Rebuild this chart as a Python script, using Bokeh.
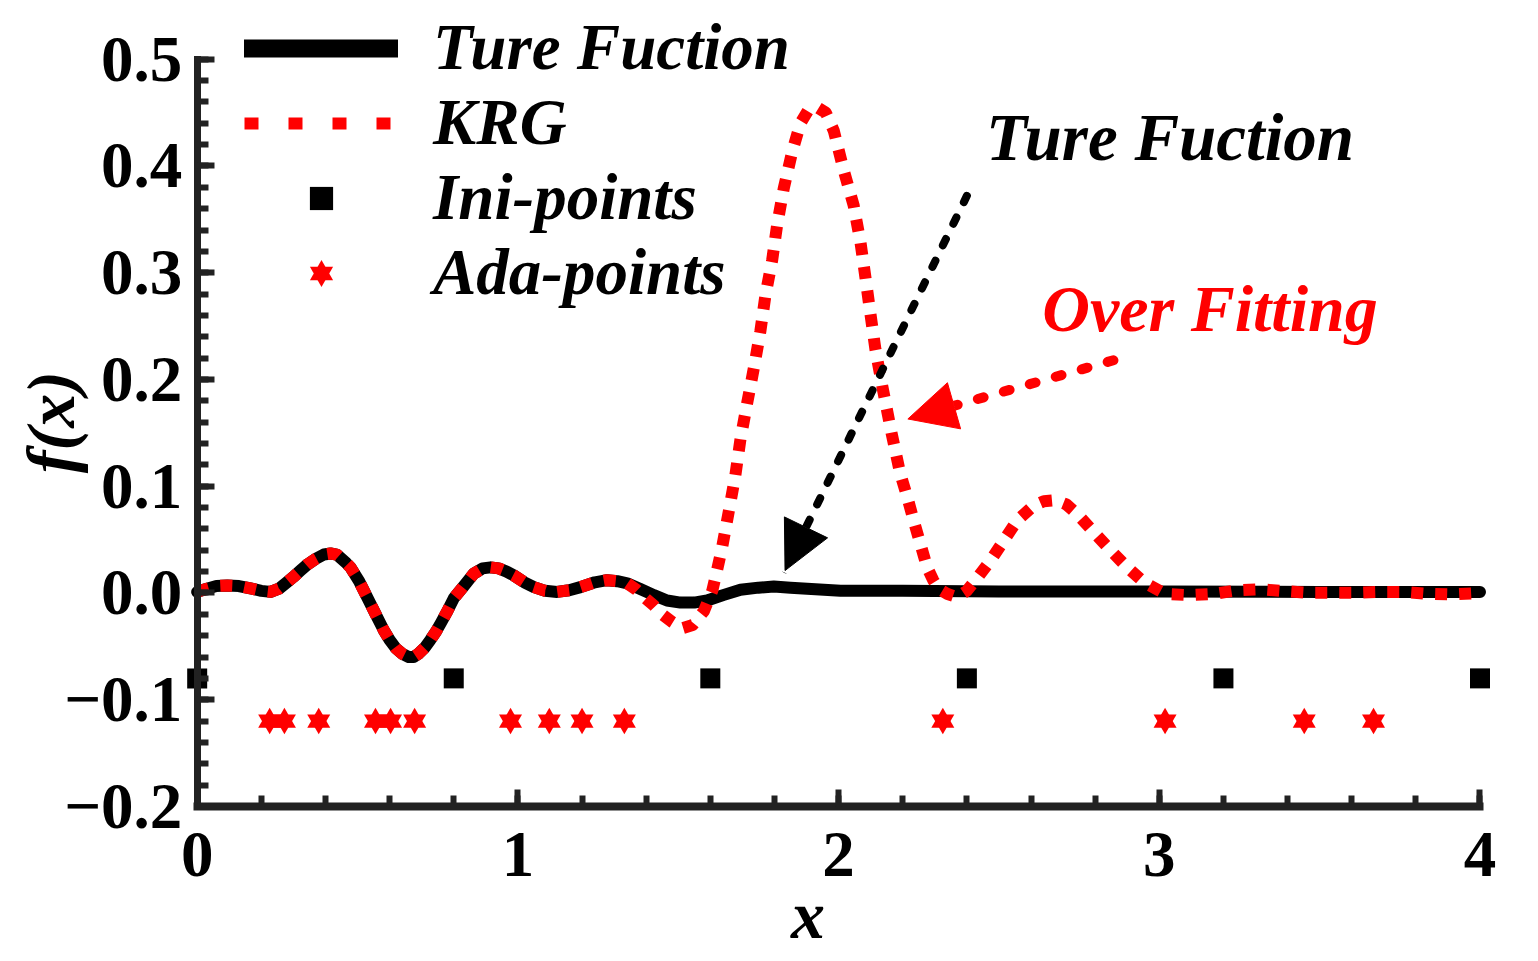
import math
from bokeh.plotting import figure
from bokeh.models import (FixedTicker, Legend, LegendItem, Label, Arrow,
                          NormalHead, Range1d)
from bokeh.embed import file_html
from bokeh.resources import INLINE

# ---------------- data ----------------
true_x = [0.00, 0.03, 0.06, 0.094, 0.13, 0.17, 0.20, 0.229, 0.255, 0.28,
          0.30, 0.322, 0.345, 0.37, 0.395, 0.416, 0.435, 0.45, 0.465, 0.478,
          0.505, 0.53, 0.555, 0.582, 0.60, 0.62, 0.64, 0.66, 0.675, 0.69,
          0.71, 0.727, 0.745, 0.76, 0.78, 0.80, 0.83, 0.862, 0.89, 0.915,
          0.94, 0.965, 0.987, 1.02, 1.05, 1.085, 1.122, 1.16, 1.195, 1.24,
          1.278, 1.31, 1.341, 1.38, 1.424, 1.465, 1.507, 1.55, 1.59, 1.64,
          1.694, 1.75, 1.798, 1.85, 1.902, 2.006, 2.2, 2.5, 3.0, 3.5, 4.0]
true_y = [0.001, 0.004, 0.0065, 0.007, 0.0065, 0.004, 0.002, 0.001, 0.004,
          0.010, 0.015, 0.021, 0.027, 0.032, 0.036, 0.037, 0.036, 0.032,
          0.028, 0.024, 0.011, -0.004, -0.019, -0.035, -0.044, -0.052,
          -0.057, -0.060, -0.060, -0.057, -0.051, -0.044, -0.036, -0.028,
          -0.017, -0.005, 0.006, 0.018, 0.023, 0.024, 0.023, 0.020, 0.0165,
          0.010, 0.0055, 0.002, 0.001, 0.0025, 0.0055, 0.010, 0.012, 0.011,
          0.009, 0.004, -0.002, -0.007, -0.009, -0.009, -0.007, -0.002,
          0.003, 0.005, 0.006, 0.005, 0.004, 0.002, 0.002, 0.0015, 0.0015,
          0.001, 0.001]

krg_x = [0.00, 0.03, 0.06, 0.094, 0.13, 0.17, 0.20, 0.229, 0.255, 0.28,
         0.30, 0.322, 0.345, 0.37, 0.395, 0.416, 0.435, 0.45, 0.465, 0.478,
         0.505, 0.53, 0.555, 0.582, 0.60, 0.62, 0.64, 0.66, 0.675, 0.69,
         0.71, 0.727, 0.745, 0.76, 0.78, 0.80, 0.83, 0.862, 0.89, 0.915,
         0.94, 0.965, 0.987, 1.02, 1.05, 1.085, 1.122, 1.16, 1.195, 1.24,
         1.278, 1.31, 1.341,
         1.37, 1.398, 1.425, 1.45, 1.48, 1.512, 1.545, 1.58, 1.606, 1.62,
         1.637, 1.658, 1.678, 1.694, 1.715, 1.736, 1.756, 1.772, 1.793,
         1.809, 1.829, 1.855, 1.881, 1.905, 1.933, 1.96, 1.985, 2.016,
         2.047, 2.068, 2.084, 2.099, 2.115, 2.136, 2.165, 2.192, 2.214,
         2.234, 2.255, 2.276, 2.295, 2.312, 2.34, 2.37, 2.40, 2.427, 2.474,
         2.515, 2.557, 2.609, 2.64, 2.676, 2.71, 2.744, 2.796, 2.848, 2.9,
         2.952, 3.02, 3.092, 3.165, 3.243, 3.316, 3.388, 3.461, 3.539,
         3.612, 3.69, 3.763, 3.836, 3.913, 4.0]
krg_y = [0.001, 0.004, 0.0065, 0.007, 0.0065, 0.004, 0.002, 0.001, 0.004,
         0.010, 0.015, 0.021, 0.027, 0.032, 0.036, 0.037, 0.036, 0.032,
         0.028, 0.024, 0.011, -0.004, -0.019, -0.035, -0.044, -0.052,
         -0.057, -0.060, -0.060, -0.057, -0.051, -0.044, -0.036, -0.028,
         -0.017, -0.005, 0.006, 0.018, 0.023, 0.024, 0.023, 0.020, 0.0165,
         0.010, 0.0055, 0.002, 0.001, 0.0025, 0.0055, 0.010, 0.012, 0.011,
         0.009,
         0.003, -0.005, -0.012, -0.020, -0.027, -0.033, -0.030, -0.017,
         0.002, 0.020, 0.043, 0.077, 0.110, 0.144, 0.178, 0.211, 0.245,
         0.279, 0.312, 0.346, 0.379, 0.413, 0.440, 0.452, 0.455, 0.450,
         0.433, 0.396, 0.363, 0.329, 0.295, 0.262, 0.228, 0.194, 0.150,
         0.112, 0.090, 0.068, 0.046, 0.024, 0.012, 0.004, -0.001, -0.004,
         0.002, 0.012, 0.0305, 0.049, 0.068, 0.082, 0.086, 0.087, 0.083,
         0.074, 0.057, 0.040, 0.024, 0.010, -0.001, -0.002, -0.001, 0.0025,
         0.0034, 0.0018, 0.0003, 0.0003, 0.0003, 0.001, 0.001, -0.0007,
         -0.0013, 0.0]

ini_x = [0.0, 0.8, 1.6, 2.4, 3.2, 4.0]
ini_y = [-0.08, -0.08, -0.08, -0.08, -0.08, -0.08]

ada_x = [0.226, 0.272, 0.379, 0.556, 0.603, 0.678, 0.977, 1.098, 1.200,
         1.332, 2.325, 3.018, 3.452, 3.668]
ada_y = [-0.12] * len(ada_x)

x_ticks = [0.0, 1.0, 2.0, 3.0, 4.0]
x_tick_labels = ["0", "1", "2", "3", "4"]
y_ticks = [-0.2, -0.1, 0.0, 0.1, 0.2, 0.3, 0.4, 0.5]
y_tick_labels = ["\u22120.2", "\u22120.1", "0.0", "0.1", "0.2", "0.3",
                 "0.4", "0.5"]
x_minor = [round(0.2 * i, 2) for i in range(21)]
y_minor = [round(-0.2 + 0.02 * i, 2) for i in range(36)]

legend_labels = ["Ture Fuction", "KRG", "Ini-points", "Ada-points"]

FONT = "Liberation Serif"
AXIS_COLOR = "#222222"
RED = "#ff0000"

# ---------------- figure: the frame covers the whole canvas ----------------
W, H = 1520, 958
p = figure(width=W, height=H, title=None,
           x_range=Range1d(-0.6133, 4.1263), y_range=Range1d(-0.3424, 0.555),
           output_backend="svg", toolbar_location=None, min_border=0)
p.grid.visible = False
p.outline_line_color = None
p.background_fill_color = "white"
p.border_fill_color = "white"

# main curves
p.line(true_x, true_y, line_color="black", line_width=12,
       line_join="round", line_cap="round")
p.line(krg_x, krg_y, line_color=RED, line_width=12, line_dash="12 12",
       line_join="round", line_cap="butt")

r_ini = p.scatter(ini_x, ini_y, marker="square", size=20,
                  fill_color="black", line_color=None)
r_ada1 = p.scatter(ada_x, ada_y, marker="triangle", size=23,
                   fill_color=RED, line_color=None)
r_ada2 = p.scatter(ada_x, ada_y, marker="inverted_triangle", size=23,
                   fill_color=RED, line_color=None)

# legend-only (hidden) copies of the curves with the legend's line styles
leg_true = p.line(true_x, true_y, line_color="black", line_width=18,
                  line_cap="round", visible=False)
leg_krg = p.line(krg_x, krg_y, line_color=RED, line_width=12,
                 line_dash="14 30", line_cap="butt", visible=False)

# axes drawn at fixed data locations inside the frame
xa = p.xaxis[0]
ya = p.yaxis[0]
xa.fixed_location = -0.2
ya.fixed_location = 0.0
xa.bounds = (0, 4)
ya.bounds = (-0.2, 0.5)
xa.ticker = FixedTicker(ticks=x_ticks, minor_ticks=x_minor)
ya.ticker = FixedTicker(ticks=y_ticks, minor_ticks=y_minor)
xa.major_label_overrides = dict(zip(x_ticks, x_tick_labels))
ya.major_label_overrides = dict(zip(y_ticks, y_tick_labels))
for ax, lw in ((xa, 8), (ya, 7)):
    ax.axis_line_color = AXIS_COLOR
    ax.axis_line_width = lw
    ax.axis_line_cap = "square"
    ax.major_tick_line_color = AXIS_COLOR
    ax.minor_tick_line_color = AXIS_COLOR
    ax.major_tick_line_width = 6
    ax.minor_tick_line_width = 6
    ax.major_tick_out = 0
    ax.minor_tick_out = 0
    ax.major_tick_in = 17
    ax.minor_tick_in = 11
    ax.major_label_text_font = FONT
    ax.major_label_text_font_size = "65px"
    ax.major_label_text_font_style = "bold"
    ax.major_label_text_color = "black"
xa.major_label_standoff = 27
ya.major_label_standoff = 15

# axis titles
p.add_layout(Label(x=-0.457, y=0.16, text="f(x)", angle=math.pi / 2,
                   text_align="center", text_baseline="middle",
                   text_font=FONT, text_font_size="68px",
                   text_font_style="bold italic", text_color="black"))
p.add_layout(Label(x=1.905, y=-0.302, text="x", text_align="center",
                   text_baseline="alphabetic", text_font=FONT,
                   text_font_size="68px", text_font_style="bold italic",
                   text_color="black"))

# annotations
p.add_layout(Label(x=2.46, y=0.4273, text="Ture Fuction",
                   text_baseline="alphabetic", text_font=FONT,
                   text_font_size="67px", text_font_style="bold italic",
                   text_color="black"))
p.add_layout(Label(x=2.635, y=0.2666, text="Over Fitting",
                   text_baseline="alphabetic", text_font=FONT,
                   text_font_size="66px", text_font_style="bold italic",
                   text_color=RED))

p.add_layout(Arrow(x_start=2.40, y_start=0.372, x_end=1.833, y_end=0.021,
                   line_color="black", line_width=8, line_dash="7 17",
                   line_cap="round",
                   end=NormalHead(size=48, fill_color="black",
                                  line_color="black", line_width=1)))
p.add_layout(Arrow(x_start=2.857, y_start=0.218, x_end=2.216, y_end=0.163,
                   line_color=RED, line_width=10, line_dash="6 21",
                   line_cap="round",
                   end=NormalHead(size=48, fill_color=RED,
                                  line_color=RED, line_width=1)))

legend = Legend(items=[
    LegendItem(label=legend_labels[0], renderers=[leg_true]),
    LegendItem(label=legend_labels[1], renderers=[leg_krg]),
    LegendItem(label=legend_labels[2], renderers=[r_ini]),
    LegendItem(label=legend_labels[3], renderers=[r_ada1, r_ada2]),
], location=(244, 648))
legend.label_text_font = FONT
legend.label_text_font_size = "65px"
legend.label_text_font_style = "bold italic"
legend.label_text_color = "black"
legend.glyph_width = 154
legend.glyph_height = 58
legend.label_standoff = 35
legend.spacing = 0
legend.padding = 0
legend.margin = 0
legend.border_line_color = None
legend.background_fill_alpha = 0
legend.inactive_fill_alpha = 0
p.add_layout(legend)

open("out.html", "w").write(file_html(p, INLINE))
